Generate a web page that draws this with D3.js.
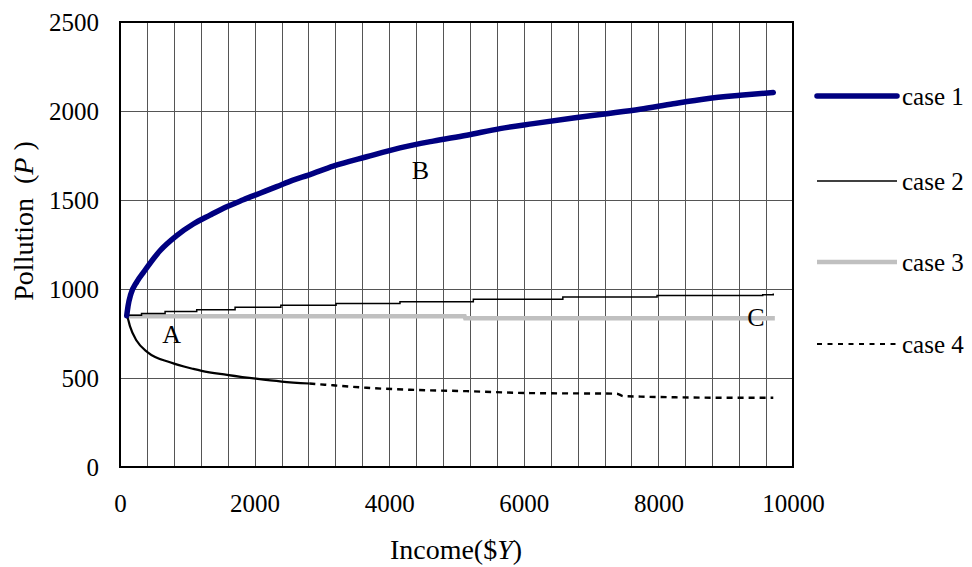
<!DOCTYPE html>
<html>
<head>
<meta charset="utf-8">
<script src="https://cdn.jsdelivr.net/npm/d3@7"></script>
<style>
  body { margin: 0; background: #fff; }
  svg { display: block; }
  text { font-family: "Liberation Serif", "Times New Roman", serif; fill: #000; }
</style>
</head>
<body>
<svg id="chart" width="972" height="567"></svg>
<script>
// ---- data ----
const case1X = [100, 120, 160, 250, 346, 594, 842, 1089, 1337, 1585, 1832, 2080, 2328, 2571, 2800, 3169, 3666, 4160, 4655, 5152, 5646, 6141, 6736, 7232, 7727, 8221, 8718, 9212, 9707];
const case1P = [850, 905, 970, 1040, 1092, 1215, 1300, 1365, 1415, 1462, 1501, 1538, 1575, 1612, 1640, 1690, 1743, 1793, 1831, 1864, 1901, 1929, 1961, 1985, 2010, 2041, 2069, 2088, 2104];

const case2X = [100, 320, 670, 1140, 1710, 2390, 3210, 4160, 5250, 6580, 7980, 9550, 9707];
const case2P = [853, 862, 873, 884, 898, 909, 918, 929, 942, 955, 963, 968, 975];

const case3X = [100, 5120, 5130, 9730];
const case3P = [847, 847, 836, 836];

const case4X = [100, 120, 149, 248, 412, 743, 1089, 1214, 1590, 2020, 2403, 2813, 3199, 3666, 4309, 5152, 6141, 7380, 7479, 9113, 9707];
const case4P = [850, 830, 790, 709, 644, 588, 551, 540, 518, 496, 480, 469, 458, 445, 434, 426, 415, 412, 398, 389, 389];

const seriesNames = ["case 1", "case 2", "case 3", "case 4"];
const xTicks = [0, 2000, 4000, 6000, 8000, 10000];
const yTicks = [0, 500, 1000, 1500, 2000, 2500];
const pointLabels = [
  { t: "A", x: 768, y: 750 },
  { t: "B", x: 4465, y: 1668 },
  { t: "C", x: 9450, y: 845 }
];

// ---- layout ----
const svg = d3.select("#chart");
const L = 120, R = 793, T = 22, B = 467;
const x = d3.scaleLinear().domain([0, 10000]).range([L, R]);
const y = d3.scaleLinear().domain([0, 2500]).range([B, T]);
const serif = '"Liberation Serif", "Times New Roman", serif';

const zip = (xs, ys) => xs.map((v, i) => [v, ys[i]]);

// gridlines
const g = svg.append("g");
g.selectAll("line.v").data(d3.range(400, 10000, 400)).join("line")
  .attr("x1", d => Math.round(x(d)) + 0.5).attr("x2", d => Math.round(x(d)) + 0.5)
  .attr("y1", T).attr("y2", B)
  .attr("stroke", "#555").attr("stroke-width", 1);
g.selectAll("line.h").data(yTicks.slice(1, -1)).join("line")
  .attr("y1", d => Math.round(y(d)) + 0.5).attr("y2", d => Math.round(y(d)) + 0.5)
  .attr("x1", L).attr("x2", R)
  .attr("stroke", "#555").attr("stroke-width", 1);

// axes (labels only)
const xAxis = d3.axisBottom(x).tickValues(xTicks).tickSize(0).tickPadding(27).tickFormat(d3.format("d"));
const yAxis = d3.axisLeft(y).tickValues(yTicks).tickSize(0).tickPadding(21).tickFormat(d3.format("d"));
const gx = svg.append("g").attr("transform", `translate(0,${B})`).call(xAxis);
const gy = svg.append("g").attr("transform", `translate(${L},0)`).call(yAxis);
[gx, gy].forEach(a => {
  a.attr("font-family", serif).attr("font-size", 25);
  a.select(".domain").remove();
  a.selectAll("text").style("font-family", serif).style("font-size", "25px").attr("fill", "#000");
});
gy.selectAll("text").attr("dy", "0.35em");

// lines
const smooth = d3.line().x(d => x(d[0])).y(d => y(d[1])).curve(d3.curveMonotoneX);
const line = d3.line().x(d => x(d[0])).y(d => y(d[1]));
const stepLine = d3.line().x(d => x(d[0])).y(d => y(d[1])).curve(d3.curveStepAfter);

svg.append("path").datum(zip(case3X, case3P)).attr("d", line)
  .attr("fill", "none").attr("stroke", "#c0c0c0").attr("stroke-width", 4.5);
svg.append("path").datum(zip(case2X, case2P)).attr("d", stepLine)
  .attr("fill", "none").attr("stroke", "#000").attr("stroke-width", 1.5);

const c4 = zip(case4X, case4P);
const split = case4X.findIndex(v => v >= 2813);
svg.append("path").datum(c4.slice(0, split + 1)).attr("d", smooth)
  .attr("fill", "none").attr("stroke", "#000").attr("stroke-width", 2.2);
svg.append("path").datum(c4.slice(split)).attr("d", smooth)
  .attr("fill", "none").attr("stroke", "#000").attr("stroke-width", 2.4).attr("stroke-dasharray", "6,5");

svg.append("path").datum(zip(case1X, case1P)).attr("d", smooth)
  .attr("fill", "none").attr("stroke", "#000080").attr("stroke-width", 5.5)
  .attr("stroke-linecap", "round").attr("stroke-linejoin", "round");

// plot border
svg.append("rect").attr("x", L).attr("y", T).attr("width", R - L).attr("height", B - T)
  .attr("fill", "none").attr("stroke", "#000").attr("stroke-width", 2);

// point labels
svg.selectAll("text.pl").data(pointLabels).join("text")
  .attr("x", d => x(d.x)).attr("y", d => y(d.y)).attr("dy", "0.35em")
  .attr("text-anchor", "middle")
  .style("font-size", "26px").text(d => d.t);

// legend
const legY = [96, 181, 262, 344];
const styles = [
  { c: "#000080", w: 5.5, dash: null, cap: "round" },
  { c: "#000", w: 1.5, dash: null, cap: "butt" },
  { c: "#c0c0c0", w: 4.5, dash: null, cap: "butt" },
  { c: "#000", w: 2.2, dash: "5,5.5", cap: "butt" }
];
const leg = svg.append("g");
seriesNames.forEach((n, i) => {
  const s = styles[i];
  leg.append("line").attr("x1", 817).attr("x2", 897).attr("y1", legY[i]).attr("y2", legY[i])
    .attr("stroke", s.c).attr("stroke-width", s.w).attr("stroke-linecap", s.cap)
    .attr("stroke-dasharray", s.dash);
  leg.append("text").attr("x", 902).attr("y", legY[i]).attr("dy", "0.35em")
    .style("font-size", "25px").text(n);
});

// axis titles
const xt = svg.append("text").attr("x", 456).attr("y", 549).attr("dy", "0.35em").attr("text-anchor", "middle")
  .style("font-size", "28px");
xt.append("tspan").text("Income($");
xt.append("tspan").style("font-style", "italic").text("Y");
xt.append("tspan").text(")");

const yt = svg.append("text").attr("transform", "translate(23,221) rotate(-90)").attr("text-anchor", "middle")
  .attr("dy", "0.35em").style("font-size", "28px").attr("xml:space", "preserve");
yt.append("tspan").text("Pollution  (");
yt.append("tspan").style("font-style", "italic").text("P");
yt.append("tspan").text(" )");
</script>
</body>
</html>
